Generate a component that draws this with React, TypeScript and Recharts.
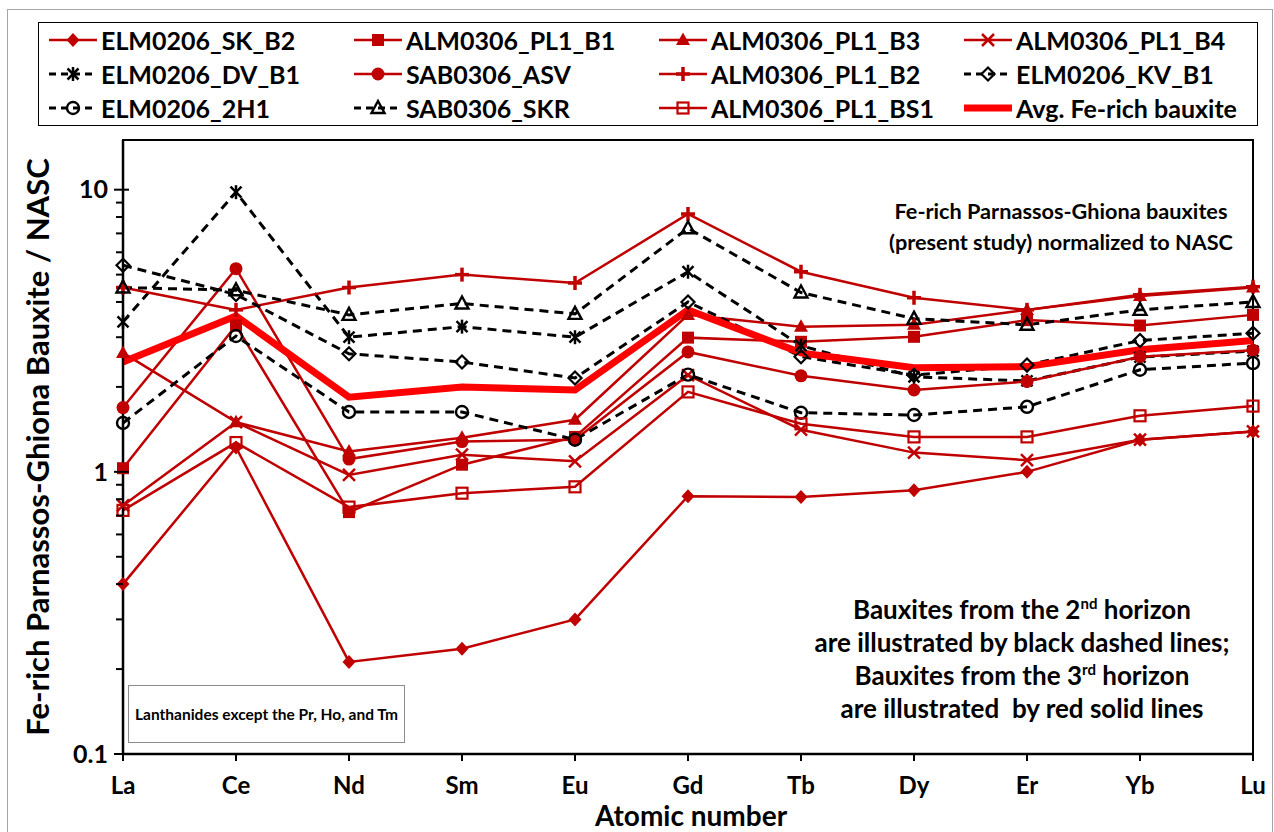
import React from 'react';
import { LineChart, Line, XAxis, YAxis, ReferenceArea } from 'recharts';

// Lanthanides on the x axis
const elements = ['La', 'Ce', 'Nd', 'Sm', 'Eu', 'Gd', 'Tb', 'Dy', 'Er', 'Yb', 'Lu'];

// sample / NASC values
const elmSkB2 = [0.4, 1.22, 0.212, 0.236, 0.3, 0.82, 0.815, 0.86, 1.0, 1.3, 1.39];
const almPl1B1 = [1.03, 3.3, 0.72, 1.06, 1.33, 2.99, 2.89, 3.01, 3.45, 3.3, 3.6];
const almPl1B3 = [2.64, 1.5, 1.18, 1.32, 1.53, 3.6, 3.27, 3.32, 3.75, 4.2, 4.5];
const almPl1B4 = [0.76, 1.5, 0.975, 1.15, 1.09, 2.2, 1.41, 1.17, 1.1, 1.3, 1.39];
const elmDvB1 = [3.4, 9.8, 3.0, 3.27, 3.0, 5.12, 2.8, 2.17, 2.1, 2.55, 2.68];
const sabAsv = [1.69, 5.25, 1.11, 1.28, 1.3, 2.66, 2.19, 1.95, 2.09, 2.56, 2.7];
const almPl1B2 = [4.5, 3.75, 4.5, 5.0, 4.67, 8.2, 5.12, 4.14, 3.75, 4.24, 4.53];
const elmKvB1 = [5.4, 4.25, 2.62, 2.45, 2.15, 4.0, 2.56, 2.2, 2.39, 2.92, 3.1];
const elm2H1 = [1.49, 3.03, 1.63, 1.63, 1.3, 2.21, 1.62, 1.59, 1.7, 2.3, 2.43];
const sabSkr = [4.5, 4.4, 3.6, 3.95, 3.63, 7.3, 4.32, 3.49, 3.32, 3.75, 4.0];
const almPl1BS1 = [0.73, 1.27, 0.75, 0.84, 0.885, 1.92, 1.48, 1.33, 1.33, 1.58, 1.71];
const avgFeRich = [2.45, 3.57, 1.84, 2.0, 1.95, 3.75, 2.64, 2.34, 2.36, 2.71, 2.92];

const yTicks = [0.1, 0.2, 0.3, 0.4, 0.5, 0.6, 0.7, 0.8, 0.9, 1, 2, 3, 4, 5, 6, 7, 8, 9, 10];

const RED = '#C00000';
const FONT = 'Lato, "Open Sans", sans-serif';

const series = [
  { key: 'skB2', name: 'ELM0206_SK_B2', values: elmSkB2, color: RED, marker: 'diamond', dashed: false },
  { key: 'pl1B1', name: 'ALM0306_PL1_B1', values: almPl1B1, color: RED, marker: 'square', dashed: false },
  { key: 'pl1B3', name: 'ALM0306_PL1_B3', values: almPl1B3, color: RED, marker: 'triangle', dashed: false },
  { key: 'pl1B4', name: 'ALM0306_PL1_B4', values: almPl1B4, color: RED, marker: 'x', dashed: false },
  { key: 'dvB1', name: 'ELM0206_DV_B1', values: elmDvB1, color: '#000', marker: 'star', dashed: true },
  { key: 'asv', name: 'SAB0306_ASV', values: sabAsv, color: RED, marker: 'circle', dashed: false },
  { key: 'pl1B2', name: 'ALM0306_PL1_B2', values: almPl1B2, color: RED, marker: 'plus', dashed: false },
  { key: 'kvB1', name: 'ELM0206_KV_B1', values: elmKvB1, color: '#000', marker: 'odiamond', dashed: true },
  { key: 'h21', name: 'ELM0206_2H1', values: elm2H1, color: '#000', marker: 'ocircle', dashed: true },
  { key: 'skr', name: 'SAB0306_SKR', values: sabSkr, color: '#000', marker: 'otriangle', dashed: true },
  { key: 'bs1', name: 'ALM0306_PL1_BS1', values: almPl1BS1, color: RED, marker: 'osquare', dashed: false },
  { key: 'avg', name: 'Avg. Fe-rich bauxite', values: avgFeRich, color: '#FF0000', marker: 'none', dashed: false },
];

const data = elements.map((el, i) => {
  const row: any = { el };
  series.forEach(s => { row[s.key] = s.values[i]; });
  return row;
});

const MarkerShape = ({ shape, cx, cy, color }: any) => {
  if (cx == null || cy == null) return <g />;
  switch (shape) {
    case 'diamond':
      return <polygon points={`${cx},${cy - 7} ${cx + 6.5},${cy} ${cx},${cy + 7} ${cx - 6.5},${cy}`} fill={color} />;
    case 'square':
      return <rect x={cx - 6} y={cy - 6} width={12} height={12} fill={color} />;
    case 'triangle':
      return <polygon points={`${cx},${cy - 7.5} ${cx + 7},${cy + 5} ${cx - 7},${cy + 5}`} fill={color} />;
    case 'x':
      return (
        <g stroke={color} strokeWidth={2.5}>
          <line x1={cx - 6} y1={cy - 6} x2={cx + 6} y2={cy + 6} />
          <line x1={cx - 6} y1={cy + 6} x2={cx + 6} y2={cy - 6} />
        </g>
      );
    case 'star':
      return (
        <g stroke={color} strokeWidth={2.5}>
          <line x1={cx - 5.5} y1={cy - 5.5} x2={cx + 5.5} y2={cy + 5.5} />
          <line x1={cx - 5.5} y1={cy + 5.5} x2={cx + 5.5} y2={cy - 5.5} />
          <line x1={cx} y1={cy - 7} x2={cx} y2={cy + 7} />
        </g>
      );
    case 'circle':
      return <circle cx={cx} cy={cy} r={6.5} fill={color} />;
    case 'plus':
      return (
        <g stroke={color} strokeWidth={3.5}>
          <line x1={cx - 7} y1={cy} x2={cx + 7} y2={cy} />
          <line x1={cx} y1={cy - 7} x2={cx} y2={cy + 7} />
        </g>
      );
    case 'odiamond':
      return <polygon points={`${cx},${cy - 6.5} ${cx + 6.5},${cy} ${cx},${cy + 6.5} ${cx - 6.5},${cy}`} fill="none" stroke={color} strokeWidth={2.2} />;
    case 'ocircle':
      return <circle cx={cx} cy={cy} r={6} fill="none" stroke={color} strokeWidth={2.4} />;
    case 'otriangle':
      return <polygon points={`${cx},${cy - 7} ${cx + 6.5},${cy + 5} ${cx - 6.5},${cy + 5}`} fill="none" stroke={color} strokeWidth={2.4} />;
    case 'osquare':
      return <rect x={cx - 5.5} y={cy - 5.5} width={11} height={11} fill="none" stroke={color} strokeWidth={2.2} />;
    default:
      return <g />;
  }
};

const YTick = (props: any) => {
  const { x, y, payload } = props;
  const v = payload.value;
  const major = v === 0.1 || v === 1 || v === 10;
  return (
    <g>
      <line x1={x - (major ? 9 : 7)} x2={major ? x + 6 : x} y1={y} y2={y} stroke="#000" strokeWidth={2} />
      {major && (
        <text x={x - 15} y={y} dy="0.35em" textAnchor="end" fontFamily={FONT} fontWeight={700} fontSize={25} fill="#000">
          {String(v)}
        </text>
      )}
    </g>
  );
};

const LegendItem = ({ s }: any) => (
  <div style={{ display: 'flex', alignItems: 'center', height: 33 }}>
    <svg width={48} height={20} style={{ marginRight: 4 }}>
      <line
        x1={0} x2={48} y1={10} y2={10}
        stroke={s.color}
        strokeWidth={s.key === 'avg' ? 7 : s.dashed ? 3 : 2.5}
        strokeDasharray={s.dashed ? '7 5' : undefined}
      />
      <MarkerShape shape={s.marker} cx={24} cy={10} color={s.color} />
    </svg>
    <span>{s.name}</span>
  </div>
);

const App = () => {
  return (
    <div style={{ position: 'absolute', left: 0, top: 0, width: 1274, height: 832, background: '#fff', fontFamily: FONT, overflow: 'hidden' }}>
      <div style={{ position: 'absolute', left: 7, top: 9, width: 1266, height: 830, border: '1px solid #a6a6a6', boxSizing: 'border-box' }} />
      <LineChart width={1274} height={832} data={data} margin={{ top: 140, right: 21, left: 0, bottom: 0 }}>
        <XAxis
          dataKey="el"
          interval={0}
          height={78}
          tickSize={7}
          tickMargin={16}
          axisLine={{ stroke: '#000', strokeWidth: 2.5 }}
          tickLine={{ stroke: '#000', strokeWidth: 2 }}
          tick={{ fill: '#000', fontSize: 24, fontWeight: 700, fontFamily: FONT }}
        />
        <YAxis
          scale="log"
          domain={[0.1, 15]}
          allowDataOverflow
          ticks={yTicks}
          interval={0}
          width={123}
          tickSize={0}
          tickMargin={0}
          axisLine={{ stroke: '#000', strokeWidth: 2.5 }}
          tickLine={false}
          tick={YTick}
        />
        <ReferenceArea x1="La" x2="Lu" y1={0.1} y2={15} fill="none" stroke="#000" strokeWidth={2} ifOverflow="visible" />
        {series.map(s => (
          <Line
            key={s.key}
            dataKey={s.key}
            name={s.name}
            type="linear"
            stroke={s.color}
            strokeWidth={s.key === 'avg' ? 7 : s.dashed ? 3 : 2.5}
            strokeDasharray={s.dashed ? '9 6' : undefined}
            dot={(p: any) => <MarkerShape key={`${s.key}-${p.index}`} shape={s.marker} cx={p.cx} cy={p.cy} color={s.color} />}
            activeDot={false}
            isAnimationActive={false}
          />
        ))}
      </LineChart>

      {/* legend box */}
      <div style={{
        position: 'absolute', left: 38, top: 22, width: 1220, height: 104, border: '1.5px solid #000', boxSizing: 'border-box',
        display: 'grid', gridTemplateColumns: '305px 305px 305px 300px', paddingLeft: 10, paddingTop: 0,
        fontSize: 25, fontWeight: 700, color: '#000',
      }}>
        {series.map(s => <LegendItem key={s.key} s={s} />)}
      </div>

      {/* y axis title */}
      <div style={{
        position: 'absolute', left: 37, top: 447, transform: 'translate(-50%, -50%) rotate(-90deg)',
        whiteSpace: 'nowrap', fontSize: 31, fontWeight: 700,
      }}>
        Fe-rich Parnassos-Ghiona Bauxite / NASC
      </div>

      {/* x axis title */}
      <div style={{ position: 'absolute', left: 691, top: 815, transform: 'translate(-50%, -50%)', whiteSpace: 'nowrap', fontSize: 28, fontWeight: 700, lineHeight: 1 }}>
        Atomic number
      </div>

      <div style={{ position: 'absolute', left: 1061, top: 227, transform: 'translate(-50%, -50%)', textAlign: 'center', whiteSpace: 'nowrap', fontSize: 21.7, fontWeight: 700, lineHeight: '31px' }}>
        Fe-rich Parnassos-Ghiona bauxites<br />(present study) normalized to NASC
      </div>

      <div style={{ position: 'absolute', left: 1022, top: 659, transform: 'translate(-50%, -50%)', textAlign: 'center', whiteSpace: 'nowrap', fontSize: 26, fontWeight: 700, lineHeight: '33px' }}>
        Bauxites from the 2<sup style={{ fontSize: 15, lineHeight: 0 }}>nd</sup> horizon<br />
        are illustrated by black dashed lines;<br />
        Bauxites from the 3<sup style={{ fontSize: 15, lineHeight: 0 }}>rd</sup> horizon<br />
        are illustrated&nbsp; by red solid lines
      </div>

      <div style={{
        position: 'absolute', left: 128, top: 685, width: 277, height: 58, border: '1px solid #8c8c8c', boxSizing: 'border-box',
        display: 'flex', alignItems: 'center', justifyContent: 'center', fontSize: 15.5, fontWeight: 700, whiteSpace: 'nowrap',
      }}>
        Lanthanides except the Pr, Ho, and Tm
      </div>
    </div>
  );
};

export default App;
